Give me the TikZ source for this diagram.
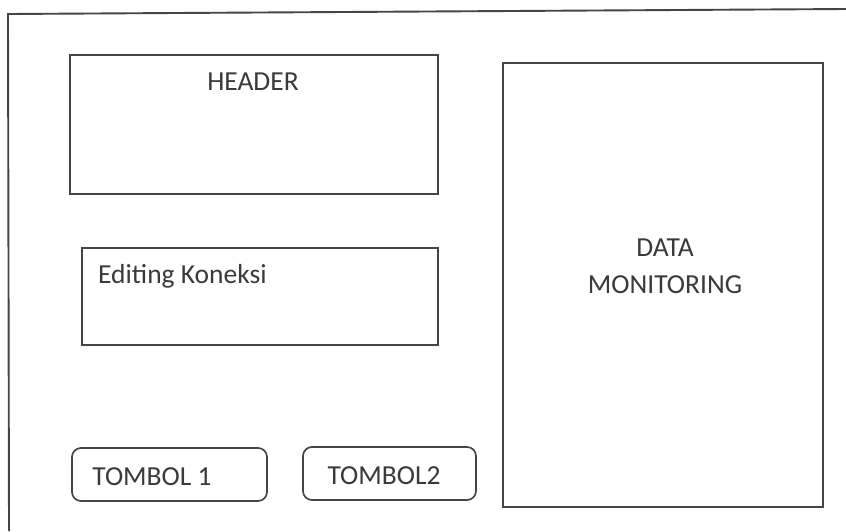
\documentclass[tikz,border=0pt]{standalone}
\usepackage{fontspec}
\setmainfont{Carlito}
\definecolor{ink}{HTML}{454545}
\definecolor{txt}{HTML}{3A3A3A}
\begin{document}
\begin{tikzpicture}[x=1pt,y=-1pt,
  box/.style={draw=ink,line width=1.9pt},
  btn/.style={draw=ink,line width=1.7pt,rounded corners=9pt},
  lbl/.style={font=\fontsize{27.5}{32}\selectfont,text=txt,inner sep=0pt}]
\useasboundingbox (0,0) rectangle (846,531);
\fill[white] (0,0) rectangle (846,531);
% outer frame (cropped on the right and bottom)
\draw[ink,line width=1.9pt] (9,531) -- (8,14) -- (846,9);
% header
\draw[box] (70,55) rectangle (438,194);
\node[lbl] (header) at (253,82) {HEADER};
% editing koneksi
\draw[box] (82,248) rectangle (438,345);
\node[lbl,anchor=west] (edit) at (98,276) {Editing Koneksi};
% data monitoring
\draw[box] (503,63) rectangle (823,507);
\node[lbl,align=center] (data) at (665,266) {DATA\\[5pt]MONITORING};
% buttons
\draw[btn] (72,448) rectangle (267,501);
\node[lbl] (t1) at (152,477) {TOMBOL 1};
\draw[btn] (303,447) rectangle (476,500);
\node[lbl] (t2) at (384,476) {TOMBOL2};
\end{tikzpicture}
\end{document}
